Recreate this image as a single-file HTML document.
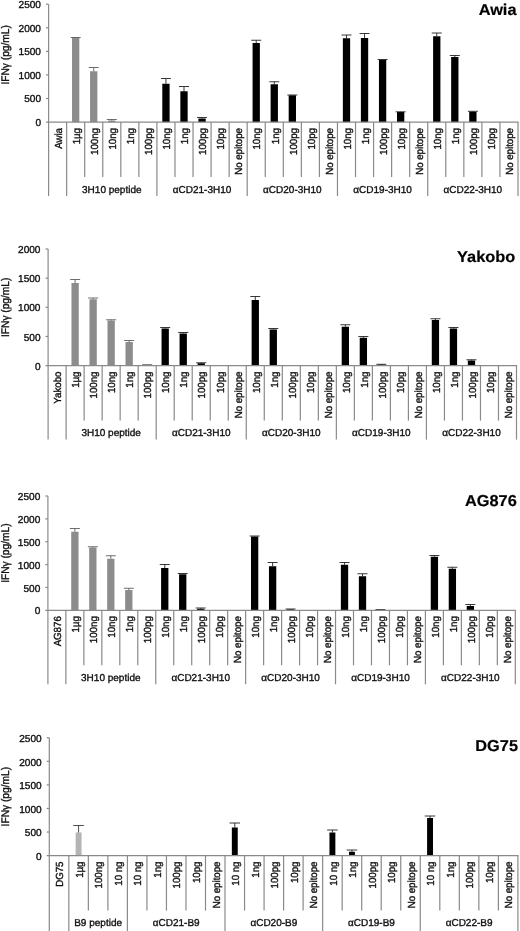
<!DOCTYPE html>
<html lang="en"><head><meta charset="utf-8"><title>IFNγ release</title>
<style>html,body{margin:0;padding:0;background:#fff}body{width:520px;height:931px;overflow:hidden}svg{display:block}</style>
</head><body>
<svg width="520" height="931" viewBox="0 0 520 931">
<rect width="520" height="931" fill="#fff"/>
<rect x="72.03" y="37.50" width="7.30" height="84.60" fill="#8c8c8c"/>
<path d="M75.68 37.50V37.50M70.68 37.50H80.68" stroke="#5e5e5e" stroke-width="0.9" fill="none"/>
<rect x="90.08" y="71.25" width="7.30" height="50.85" fill="#8c8c8c"/>
<path d="M93.73 71.25V67.50M88.73 67.50H98.73" stroke="#5e5e5e" stroke-width="0.9" fill="none"/>
<rect x="108.14" y="120.50" width="7.30" height="1.60" fill="#8c8c8c"/>
<path d="M111.79 120.50V119.50M106.79 119.50H116.79" stroke="#5e5e5e" stroke-width="0.9" fill="none"/>
<rect x="162.30" y="83.75" width="7.30" height="38.35" fill="#000"/>
<path d="M165.95 83.75V78.50M160.95 78.50H170.95" stroke="#222" stroke-width="0.9" fill="none"/>
<rect x="180.35" y="91.25" width="7.30" height="30.85" fill="#000"/>
<path d="M184.00 91.25V86.50M179.00 86.50H189.00" stroke="#222" stroke-width="0.9" fill="none"/>
<rect x="198.41" y="118.50" width="7.30" height="3.60" fill="#000"/>
<path d="M202.06 118.50V117.50M197.06 117.50H207.06" stroke="#222" stroke-width="0.9" fill="none"/>
<rect x="252.57" y="43.00" width="7.30" height="79.10" fill="#000"/>
<path d="M256.22 43.00V40.25M251.22 40.25H261.22" stroke="#222" stroke-width="0.9" fill="none"/>
<rect x="270.62" y="84.25" width="7.30" height="37.85" fill="#000"/>
<path d="M274.27 84.25V81.75M269.27 81.75H279.27" stroke="#222" stroke-width="0.9" fill="none"/>
<rect x="288.68" y="95.25" width="7.30" height="26.85" fill="#000"/>
<path d="M292.33 95.25V95.00M287.33 95.00H297.33" stroke="#222" stroke-width="0.9" fill="none"/>
<rect x="342.84" y="38.25" width="7.30" height="83.85" fill="#000"/>
<path d="M346.49 38.25V35.00M341.49 35.00H351.49" stroke="#222" stroke-width="0.9" fill="none"/>
<rect x="360.89" y="38.00" width="7.30" height="84.10" fill="#000"/>
<path d="M364.54 38.00V33.50M359.54 33.50H369.54" stroke="#222" stroke-width="0.9" fill="none"/>
<rect x="378.95" y="59.75" width="7.30" height="62.35" fill="#000"/>
<path d="M382.60 59.75V59.50M377.60 59.50H387.60" stroke="#222" stroke-width="0.9" fill="none"/>
<rect x="397.00" y="112.00" width="7.30" height="10.10" fill="#000"/>
<path d="M400.65 112.00V111.80M395.65 111.80H405.65" stroke="#222" stroke-width="0.9" fill="none"/>
<rect x="433.11" y="36.25" width="7.30" height="85.85" fill="#000"/>
<path d="M436.76 36.25V33.00M431.76 33.00H441.76" stroke="#222" stroke-width="0.9" fill="none"/>
<rect x="451.16" y="57.00" width="7.30" height="65.10" fill="#000"/>
<path d="M454.81 57.00V55.50M449.81 55.50H459.81" stroke="#222" stroke-width="0.9" fill="none"/>
<rect x="469.22" y="111.75" width="7.30" height="10.35" fill="#000"/>
<path d="M472.87 111.75V111.30M467.87 111.30H477.87" stroke="#222" stroke-width="0.9" fill="none"/>
<g stroke="#8a8a8a" stroke-width="1.2" fill="none">
<path d="M48.60 4.20V122.10"/>
<path d="M46.00 122.10H518.60"/>
<path d="M46.00 4.20H48.60"/>
<path d="M46.00 27.78H48.60"/>
<path d="M46.00 51.36H48.60"/>
<path d="M46.00 74.94H48.60"/>
<path d="M46.00 98.52H48.60"/>
<path d="M48.60 122.10V196.10"/>
<path d="M66.65 122.10V196.10"/>
<path d="M84.71 122.10V177.10"/>
<path d="M102.76 122.10V177.10"/>
<path d="M120.82 122.10V177.10"/>
<path d="M138.87 122.10V177.10"/>
<path d="M156.92 122.10V196.10"/>
<path d="M174.98 122.10V177.10"/>
<path d="M193.03 122.10V177.10"/>
<path d="M211.08 122.10V177.10"/>
<path d="M229.14 122.10V177.10"/>
<path d="M247.19 122.10V196.10"/>
<path d="M265.25 122.10V177.10"/>
<path d="M283.30 122.10V177.10"/>
<path d="M301.35 122.10V177.10"/>
<path d="M319.41 122.10V177.10"/>
<path d="M337.46 122.10V196.10"/>
<path d="M355.52 122.10V177.10"/>
<path d="M373.57 122.10V177.10"/>
<path d="M391.62 122.10V177.10"/>
<path d="M409.68 122.10V177.10"/>
<path d="M427.73 122.10V196.10"/>
<path d="M445.78 122.10V177.10"/>
<path d="M463.84 122.10V177.10"/>
<path d="M481.89 122.10V177.10"/>
<path d="M499.95 122.10V177.10"/>
<path d="M518.00 122.10V196.10"/>
</g>
<g font-family="Liberation Sans, Arial, Helvetica, sans-serif" fill="#111" stroke="#111" stroke-width="0.35" text-rendering="geometricPrecision">
<text x="41.00" y="8.00" font-size="10.1" text-anchor="end">2500</text>
<text x="41.00" y="31.58" font-size="10.1" text-anchor="end">2000</text>
<text x="41.00" y="55.16" font-size="10.1" text-anchor="end">1500</text>
<text x="41.00" y="78.74" font-size="10.1" text-anchor="end">1000</text>
<text x="41.00" y="102.32" font-size="10.1" text-anchor="end">500</text>
<text x="41.00" y="125.90" font-size="10.1" text-anchor="end">0</text>
<text transform="translate(8.5 54.85) rotate(-90) scale(1 1.08)" font-size="10.2" text-anchor="middle">IFNγ (pg/mL)</text>
<text transform="translate(61.88 128.00) rotate(-90) scale(1 1.06)" font-size="9.7" text-anchor="end">Awia</text>
<text transform="translate(79.93 128.00) rotate(-90) scale(1 1.06)" font-size="9.7" text-anchor="end">1µg</text>
<text transform="translate(97.98 128.00) rotate(-90) scale(1 1.06)" font-size="9.7" text-anchor="end">100ng</text>
<text transform="translate(116.04 128.00) rotate(-90) scale(1 1.06)" font-size="9.7" text-anchor="end">10ng</text>
<text transform="translate(134.09 128.00) rotate(-90) scale(1 1.06)" font-size="9.7" text-anchor="end">1ng</text>
<text transform="translate(152.15 128.00) rotate(-90) scale(1 1.06)" font-size="9.7" text-anchor="end">100pg</text>
<text transform="translate(170.20 128.00) rotate(-90) scale(1 1.06)" font-size="9.7" text-anchor="end">10ng</text>
<text transform="translate(188.25 128.00) rotate(-90) scale(1 1.06)" font-size="9.7" text-anchor="end">1ng</text>
<text transform="translate(206.31 128.00) rotate(-90) scale(1 1.06)" font-size="9.7" text-anchor="end">100pg</text>
<text transform="translate(224.36 128.00) rotate(-90) scale(1 1.06)" font-size="9.7" text-anchor="end">10pg</text>
<text transform="translate(242.42 128.00) rotate(-90) scale(1 1.06)" font-size="9.7" text-anchor="end">No epitope</text>
<text transform="translate(260.47 128.00) rotate(-90) scale(1 1.06)" font-size="9.7" text-anchor="end">10ng</text>
<text transform="translate(278.52 128.00) rotate(-90) scale(1 1.06)" font-size="9.7" text-anchor="end">1ng</text>
<text transform="translate(296.58 128.00) rotate(-90) scale(1 1.06)" font-size="9.7" text-anchor="end">100pg</text>
<text transform="translate(314.63 128.00) rotate(-90) scale(1 1.06)" font-size="9.7" text-anchor="end">10pg</text>
<text transform="translate(332.68 128.00) rotate(-90) scale(1 1.06)" font-size="9.7" text-anchor="end">No epitope</text>
<text transform="translate(350.74 128.00) rotate(-90) scale(1 1.06)" font-size="9.7" text-anchor="end">10ng</text>
<text transform="translate(368.79 128.00) rotate(-90) scale(1 1.06)" font-size="9.7" text-anchor="end">1ng</text>
<text transform="translate(386.85 128.00) rotate(-90) scale(1 1.06)" font-size="9.7" text-anchor="end">100pg</text>
<text transform="translate(404.90 128.00) rotate(-90) scale(1 1.06)" font-size="9.7" text-anchor="end">10pg</text>
<text transform="translate(422.95 128.00) rotate(-90) scale(1 1.06)" font-size="9.7" text-anchor="end">No epitope</text>
<text transform="translate(441.01 128.00) rotate(-90) scale(1 1.06)" font-size="9.7" text-anchor="end">10ng</text>
<text transform="translate(459.06 128.00) rotate(-90) scale(1 1.06)" font-size="9.7" text-anchor="end">1ng</text>
<text transform="translate(477.12 128.00) rotate(-90) scale(1 1.06)" font-size="9.7" text-anchor="end">100pg</text>
<text transform="translate(495.17 128.00) rotate(-90) scale(1 1.06)" font-size="9.7" text-anchor="end">10pg</text>
<text transform="translate(513.22 128.00) rotate(-90) scale(1 1.06)" font-size="9.7" text-anchor="end">No epitope</text>
<text x="111.79" y="192.60" font-size="10" text-anchor="middle">3H10 peptide</text>
<text x="202.06" y="192.60" font-size="10" text-anchor="middle">αCD21-3H10</text>
<text x="292.33" y="192.60" font-size="10" text-anchor="middle">αCD20-3H10</text>
<text x="382.60" y="192.60" font-size="10" text-anchor="middle">αCD19-3H10</text>
<text x="472.87" y="192.60" font-size="10" text-anchor="middle">αCD22-3H10</text>
<text transform="translate(516.5 14.75) scale(1.035 1)" font-size="15.8" font-weight="bold" text-anchor="end" fill="#000" stroke="#000" stroke-width="0.2">Awia</text>
</g>
<rect x="71.47" y="283.00" width="7.30" height="82.60" fill="#8c8c8c"/>
<path d="M75.12 283.00V279.50M70.12 279.50H80.12" stroke="#5e5e5e" stroke-width="0.9" fill="none"/>
<rect x="89.49" y="299.25" width="7.30" height="66.35" fill="#8c8c8c"/>
<path d="M93.14 299.25V298.00M88.14 298.00H98.14" stroke="#5e5e5e" stroke-width="0.9" fill="none"/>
<rect x="107.50" y="320.50" width="7.30" height="45.10" fill="#8c8c8c"/>
<path d="M111.15 320.50V319.75M106.15 319.75H116.15" stroke="#5e5e5e" stroke-width="0.9" fill="none"/>
<rect x="125.52" y="342.00" width="7.30" height="23.60" fill="#8c8c8c"/>
<path d="M129.17 342.00V340.50M124.17 340.50H134.17" stroke="#5e5e5e" stroke-width="0.9" fill="none"/>
<rect x="143.53" y="364.90" width="7.30" height="0.70" fill="#8c8c8c"/>
<path d="M147.18 364.90V364.70M142.18 364.70H152.18" stroke="#5e5e5e" stroke-width="0.9" fill="none"/>
<rect x="161.55" y="328.50" width="7.30" height="37.10" fill="#000"/>
<path d="M165.20 328.50V327.50M160.20 327.50H170.20" stroke="#222" stroke-width="0.9" fill="none"/>
<rect x="179.57" y="333.50" width="7.30" height="32.10" fill="#000"/>
<path d="M183.22 333.50V332.50M178.22 332.50H188.22" stroke="#222" stroke-width="0.9" fill="none"/>
<rect x="197.58" y="363.25" width="7.30" height="2.35" fill="#000"/>
<path d="M201.23 363.25V362.75M196.23 362.75H206.23" stroke="#222" stroke-width="0.9" fill="none"/>
<rect x="251.63" y="300.00" width="7.30" height="65.60" fill="#000"/>
<path d="M255.28 300.00V296.50M250.28 296.50H260.28" stroke="#222" stroke-width="0.9" fill="none"/>
<rect x="269.64" y="329.50" width="7.30" height="36.10" fill="#000"/>
<path d="M273.29 329.50V328.50M268.29 328.50H278.29" stroke="#222" stroke-width="0.9" fill="none"/>
<rect x="341.70" y="326.75" width="7.30" height="38.85" fill="#000"/>
<path d="M345.35 326.75V324.75M340.35 324.75H350.35" stroke="#222" stroke-width="0.9" fill="none"/>
<rect x="359.72" y="337.75" width="7.30" height="27.85" fill="#000"/>
<path d="M363.37 337.75V336.50M358.37 336.50H368.37" stroke="#222" stroke-width="0.9" fill="none"/>
<rect x="377.73" y="364.60" width="7.30" height="1.00" fill="#000"/>
<path d="M381.38 364.60V364.30M376.38 364.30H386.38" stroke="#222" stroke-width="0.9" fill="none"/>
<rect x="431.78" y="320.00" width="7.30" height="45.60" fill="#000"/>
<path d="M435.43 320.00V318.75M430.43 318.75H440.43" stroke="#222" stroke-width="0.9" fill="none"/>
<rect x="449.80" y="328.50" width="7.30" height="37.10" fill="#000"/>
<path d="M453.45 328.50V327.50M448.45 327.50H458.45" stroke="#222" stroke-width="0.9" fill="none"/>
<rect x="467.81" y="360.50" width="7.30" height="5.10" fill="#000"/>
<path d="M471.46 360.50V359.75M466.46 359.75H476.46" stroke="#222" stroke-width="0.9" fill="none"/>
<g stroke="#8a8a8a" stroke-width="1.2" fill="none">
<path d="M48.10 249.00V365.60"/>
<path d="M45.50 365.60H517.10"/>
<path d="M45.50 249.00H48.10"/>
<path d="M45.50 278.15H48.10"/>
<path d="M45.50 307.30H48.10"/>
<path d="M45.50 336.45H48.10"/>
<path d="M48.10 365.60V439.60"/>
<path d="M66.12 365.60V439.60"/>
<path d="M84.13 365.60V420.60"/>
<path d="M102.15 365.60V420.60"/>
<path d="M120.16 365.60V420.60"/>
<path d="M138.18 365.60V420.60"/>
<path d="M156.19 365.60V439.60"/>
<path d="M174.21 365.60V420.60"/>
<path d="M192.22 365.60V420.60"/>
<path d="M210.24 365.60V420.60"/>
<path d="M228.25 365.60V420.60"/>
<path d="M246.27 365.60V439.60"/>
<path d="M264.28 365.60V420.60"/>
<path d="M282.30 365.60V420.60"/>
<path d="M300.32 365.60V420.60"/>
<path d="M318.33 365.60V420.60"/>
<path d="M336.35 365.60V439.60"/>
<path d="M354.36 365.60V420.60"/>
<path d="M372.38 365.60V420.60"/>
<path d="M390.39 365.60V420.60"/>
<path d="M408.41 365.60V420.60"/>
<path d="M426.42 365.60V439.60"/>
<path d="M444.44 365.60V420.60"/>
<path d="M462.45 365.60V420.60"/>
<path d="M480.47 365.60V420.60"/>
<path d="M498.48 365.60V420.60"/>
<path d="M516.50 365.60V439.60"/>
</g>
<g font-family="Liberation Sans, Arial, Helvetica, sans-serif" fill="#111" stroke="#111" stroke-width="0.35" text-rendering="geometricPrecision">
<text x="40.50" y="253.10" font-size="10.1" text-anchor="end">2000</text>
<text x="40.50" y="282.25" font-size="10.1" text-anchor="end">1500</text>
<text x="40.50" y="311.40" font-size="10.1" text-anchor="end">1000</text>
<text x="40.50" y="340.55" font-size="10.1" text-anchor="end">500</text>
<text x="40.50" y="369.70" font-size="10.1" text-anchor="end">0</text>
<text transform="translate(8.5 307.30) rotate(-90) scale(1 1.08)" font-size="10.2" text-anchor="middle">IFNγ (pg/mL)</text>
<text transform="translate(61.36 371.50) rotate(-90) scale(1 1.06)" font-size="9.7" text-anchor="end">Yakobo</text>
<text transform="translate(79.37 371.50) rotate(-90) scale(1 1.06)" font-size="9.7" text-anchor="end">1µg</text>
<text transform="translate(97.39 371.50) rotate(-90) scale(1 1.06)" font-size="9.7" text-anchor="end">100ng</text>
<text transform="translate(115.40 371.50) rotate(-90) scale(1 1.06)" font-size="9.7" text-anchor="end">10ng</text>
<text transform="translate(133.42 371.50) rotate(-90) scale(1 1.06)" font-size="9.7" text-anchor="end">1ng</text>
<text transform="translate(151.43 371.50) rotate(-90) scale(1 1.06)" font-size="9.7" text-anchor="end">100pg</text>
<text transform="translate(169.45 371.50) rotate(-90) scale(1 1.06)" font-size="9.7" text-anchor="end">10ng</text>
<text transform="translate(187.47 371.50) rotate(-90) scale(1 1.06)" font-size="9.7" text-anchor="end">1ng</text>
<text transform="translate(205.48 371.50) rotate(-90) scale(1 1.06)" font-size="9.7" text-anchor="end">100pg</text>
<text transform="translate(223.50 371.50) rotate(-90) scale(1 1.06)" font-size="9.7" text-anchor="end">10pg</text>
<text transform="translate(241.51 371.50) rotate(-90) scale(1 1.06)" font-size="9.7" text-anchor="end">No epitope</text>
<text transform="translate(259.53 371.50) rotate(-90) scale(1 1.06)" font-size="9.7" text-anchor="end">10ng</text>
<text transform="translate(277.54 371.50) rotate(-90) scale(1 1.06)" font-size="9.7" text-anchor="end">1ng</text>
<text transform="translate(295.56 371.50) rotate(-90) scale(1 1.06)" font-size="9.7" text-anchor="end">100pg</text>
<text transform="translate(313.57 371.50) rotate(-90) scale(1 1.06)" font-size="9.7" text-anchor="end">10pg</text>
<text transform="translate(331.59 371.50) rotate(-90) scale(1 1.06)" font-size="9.7" text-anchor="end">No epitope</text>
<text transform="translate(349.60 371.50) rotate(-90) scale(1 1.06)" font-size="9.7" text-anchor="end">10ng</text>
<text transform="translate(367.62 371.50) rotate(-90) scale(1 1.06)" font-size="9.7" text-anchor="end">1ng</text>
<text transform="translate(385.63 371.50) rotate(-90) scale(1 1.06)" font-size="9.7" text-anchor="end">100pg</text>
<text transform="translate(403.65 371.50) rotate(-90) scale(1 1.06)" font-size="9.7" text-anchor="end">10pg</text>
<text transform="translate(421.67 371.50) rotate(-90) scale(1 1.06)" font-size="9.7" text-anchor="end">No epitope</text>
<text transform="translate(439.68 371.50) rotate(-90) scale(1 1.06)" font-size="9.7" text-anchor="end">10ng</text>
<text transform="translate(457.70 371.50) rotate(-90) scale(1 1.06)" font-size="9.7" text-anchor="end">1ng</text>
<text transform="translate(475.71 371.50) rotate(-90) scale(1 1.06)" font-size="9.7" text-anchor="end">100pg</text>
<text transform="translate(493.73 371.50) rotate(-90) scale(1 1.06)" font-size="9.7" text-anchor="end">10pg</text>
<text transform="translate(511.74 371.50) rotate(-90) scale(1 1.06)" font-size="9.7" text-anchor="end">No epitope</text>
<text x="111.15" y="436.10" font-size="10" text-anchor="middle">3H10 peptide</text>
<text x="201.23" y="436.10" font-size="10" text-anchor="middle">αCD21-3H10</text>
<text x="291.31" y="436.10" font-size="10" text-anchor="middle">αCD20-3H10</text>
<text x="381.38" y="436.10" font-size="10" text-anchor="middle">αCD19-3H10</text>
<text x="471.46" y="436.10" font-size="10" text-anchor="middle">αCD22-3H10</text>
<text transform="translate(515.2 262) scale(1.035 1)" font-size="15.8" font-weight="bold" text-anchor="end" fill="#000" stroke="#000" stroke-width="0.2">Yakobo</text>
</g>
<rect x="71.22" y="531.75" width="7.30" height="78.55" fill="#8c8c8c"/>
<path d="M74.87 531.75V528.50M69.87 528.50H79.87" stroke="#5e5e5e" stroke-width="0.9" fill="none"/>
<rect x="89.19" y="547.50" width="7.30" height="62.80" fill="#8c8c8c"/>
<path d="M92.84 547.50V546.75M87.84 546.75H97.84" stroke="#5e5e5e" stroke-width="0.9" fill="none"/>
<rect x="107.17" y="558.75" width="7.30" height="51.55" fill="#8c8c8c"/>
<path d="M110.82 558.75V555.75M105.82 555.75H115.82" stroke="#5e5e5e" stroke-width="0.9" fill="none"/>
<rect x="125.15" y="590.00" width="7.30" height="20.30" fill="#8c8c8c"/>
<path d="M128.80 590.00V588.25M123.80 588.25H133.80" stroke="#5e5e5e" stroke-width="0.9" fill="none"/>
<rect x="161.10" y="568.00" width="7.30" height="42.30" fill="#000"/>
<path d="M164.75 568.00V564.50M159.75 564.50H169.75" stroke="#222" stroke-width="0.9" fill="none"/>
<rect x="179.08" y="574.25" width="7.30" height="36.05" fill="#000"/>
<path d="M182.73 574.25V573.50M177.73 573.50H187.73" stroke="#222" stroke-width="0.9" fill="none"/>
<rect x="197.05" y="608.75" width="7.30" height="1.55" fill="#000"/>
<path d="M200.70 608.75V608.00M195.70 608.00H205.70" stroke="#222" stroke-width="0.9" fill="none"/>
<rect x="250.98" y="536.50" width="7.30" height="73.80" fill="#000"/>
<path d="M254.63 536.50V536.00M249.63 536.00H259.63" stroke="#222" stroke-width="0.9" fill="none"/>
<rect x="268.96" y="566.25" width="7.30" height="44.05" fill="#000"/>
<path d="M272.61 566.25V562.50M267.61 562.50H277.61" stroke="#222" stroke-width="0.9" fill="none"/>
<rect x="286.94" y="609.30" width="7.30" height="1.00" fill="#000"/>
<path d="M290.59 609.30V609.00M285.59 609.00H295.59" stroke="#222" stroke-width="0.9" fill="none"/>
<rect x="340.87" y="564.75" width="7.30" height="45.55" fill="#000"/>
<path d="M344.52 564.75V562.50M339.52 562.50H349.52" stroke="#222" stroke-width="0.9" fill="none"/>
<rect x="358.85" y="576.25" width="7.30" height="34.05" fill="#000"/>
<path d="M362.50 576.25V573.75M357.50 573.75H367.50" stroke="#222" stroke-width="0.9" fill="none"/>
<rect x="376.82" y="609.80" width="7.30" height="0.50" fill="#000"/>
<path d="M380.47 609.80V609.60M375.47 609.60H385.47" stroke="#222" stroke-width="0.9" fill="none"/>
<rect x="430.75" y="556.75" width="7.30" height="53.55" fill="#000"/>
<path d="M434.40 556.75V555.50M429.40 555.50H439.40" stroke="#222" stroke-width="0.9" fill="none"/>
<rect x="448.73" y="568.75" width="7.30" height="41.55" fill="#000"/>
<path d="M452.38 568.75V567.25M447.38 567.25H457.38" stroke="#222" stroke-width="0.9" fill="none"/>
<rect x="466.71" y="606.00" width="7.30" height="4.30" fill="#000"/>
<path d="M470.36 606.00V604.50M465.36 604.50H475.36" stroke="#222" stroke-width="0.9" fill="none"/>
<g stroke="#8a8a8a" stroke-width="1.2" fill="none">
<path d="M47.90 496.00V610.30"/>
<path d="M45.30 610.30H515.90"/>
<path d="M45.30 496.00H47.90"/>
<path d="M45.30 518.86H47.90"/>
<path d="M45.30 541.72H47.90"/>
<path d="M45.30 564.58H47.90"/>
<path d="M45.30 587.44H47.90"/>
<path d="M47.90 610.30V684.30"/>
<path d="M65.88 610.30V684.30"/>
<path d="M83.85 610.30V665.30"/>
<path d="M101.83 610.30V665.30"/>
<path d="M119.81 610.30V665.30"/>
<path d="M137.78 610.30V665.30"/>
<path d="M155.76 610.30V684.30"/>
<path d="M173.74 610.30V665.30"/>
<path d="M191.72 610.30V665.30"/>
<path d="M209.69 610.30V665.30"/>
<path d="M227.67 610.30V665.30"/>
<path d="M245.65 610.30V684.30"/>
<path d="M263.62 610.30V665.30"/>
<path d="M281.60 610.30V665.30"/>
<path d="M299.58 610.30V665.30"/>
<path d="M317.55 610.30V665.30"/>
<path d="M335.53 610.30V684.30"/>
<path d="M353.51 610.30V665.30"/>
<path d="M371.48 610.30V665.30"/>
<path d="M389.46 610.30V665.30"/>
<path d="M407.44 610.30V665.30"/>
<path d="M425.42 610.30V684.30"/>
<path d="M443.39 610.30V665.30"/>
<path d="M461.37 610.30V665.30"/>
<path d="M479.35 610.30V665.30"/>
<path d="M497.32 610.30V665.30"/>
<path d="M515.30 610.30V684.30"/>
</g>
<g font-family="Liberation Sans, Arial, Helvetica, sans-serif" fill="#111" stroke="#111" stroke-width="0.35" text-rendering="geometricPrecision">
<text x="40.30" y="500.10" font-size="10.1" text-anchor="end">2500</text>
<text x="40.30" y="522.96" font-size="10.1" text-anchor="end">2000</text>
<text x="40.30" y="545.82" font-size="10.1" text-anchor="end">1500</text>
<text x="40.30" y="568.68" font-size="10.1" text-anchor="end">1000</text>
<text x="40.30" y="591.54" font-size="10.1" text-anchor="end">500</text>
<text x="40.30" y="614.40" font-size="10.1" text-anchor="end">0</text>
<text transform="translate(8.5 553.15) rotate(-90) scale(1 1.08)" font-size="10.2" text-anchor="middle">IFNγ (pg/mL)</text>
<text transform="translate(61.14 616.20) rotate(-90) scale(1 1.06)" font-size="9.7" text-anchor="end">AG876</text>
<text transform="translate(79.12 616.20) rotate(-90) scale(1 1.06)" font-size="9.7" text-anchor="end">1µg</text>
<text transform="translate(97.09 616.20) rotate(-90) scale(1 1.06)" font-size="9.7" text-anchor="end">100ng</text>
<text transform="translate(115.07 616.20) rotate(-90) scale(1 1.06)" font-size="9.7" text-anchor="end">10ng</text>
<text transform="translate(133.05 616.20) rotate(-90) scale(1 1.06)" font-size="9.7" text-anchor="end">1ng</text>
<text transform="translate(151.02 616.20) rotate(-90) scale(1 1.06)" font-size="9.7" text-anchor="end">100pg</text>
<text transform="translate(169.00 616.20) rotate(-90) scale(1 1.06)" font-size="9.7" text-anchor="end">10ng</text>
<text transform="translate(186.98 616.20) rotate(-90) scale(1 1.06)" font-size="9.7" text-anchor="end">1ng</text>
<text transform="translate(204.95 616.20) rotate(-90) scale(1 1.06)" font-size="9.7" text-anchor="end">100pg</text>
<text transform="translate(222.93 616.20) rotate(-90) scale(1 1.06)" font-size="9.7" text-anchor="end">10pg</text>
<text transform="translate(240.91 616.20) rotate(-90) scale(1 1.06)" font-size="9.7" text-anchor="end">No epitope</text>
<text transform="translate(258.88 616.20) rotate(-90) scale(1 1.06)" font-size="9.7" text-anchor="end">10ng</text>
<text transform="translate(276.86 616.20) rotate(-90) scale(1 1.06)" font-size="9.7" text-anchor="end">1ng</text>
<text transform="translate(294.84 616.20) rotate(-90) scale(1 1.06)" font-size="9.7" text-anchor="end">100pg</text>
<text transform="translate(312.82 616.20) rotate(-90) scale(1 1.06)" font-size="9.7" text-anchor="end">10pg</text>
<text transform="translate(330.79 616.20) rotate(-90) scale(1 1.06)" font-size="9.7" text-anchor="end">No epitope</text>
<text transform="translate(348.77 616.20) rotate(-90) scale(1 1.06)" font-size="9.7" text-anchor="end">10ng</text>
<text transform="translate(366.75 616.20) rotate(-90) scale(1 1.06)" font-size="9.7" text-anchor="end">1ng</text>
<text transform="translate(384.72 616.20) rotate(-90) scale(1 1.06)" font-size="9.7" text-anchor="end">100pg</text>
<text transform="translate(402.70 616.20) rotate(-90) scale(1 1.06)" font-size="9.7" text-anchor="end">10pg</text>
<text transform="translate(420.68 616.20) rotate(-90) scale(1 1.06)" font-size="9.7" text-anchor="end">No epitope</text>
<text transform="translate(438.65 616.20) rotate(-90) scale(1 1.06)" font-size="9.7" text-anchor="end">10ng</text>
<text transform="translate(456.63 616.20) rotate(-90) scale(1 1.06)" font-size="9.7" text-anchor="end">1ng</text>
<text transform="translate(474.61 616.20) rotate(-90) scale(1 1.06)" font-size="9.7" text-anchor="end">100pg</text>
<text transform="translate(492.58 616.20) rotate(-90) scale(1 1.06)" font-size="9.7" text-anchor="end">10pg</text>
<text transform="translate(510.56 616.20) rotate(-90) scale(1 1.06)" font-size="9.7" text-anchor="end">No epitope</text>
<text x="110.82" y="680.80" font-size="10" text-anchor="middle">3H10 peptide</text>
<text x="200.70" y="680.80" font-size="10" text-anchor="middle">αCD21-3H10</text>
<text x="290.59" y="680.80" font-size="10" text-anchor="middle">αCD20-3H10</text>
<text x="380.47" y="680.80" font-size="10" text-anchor="middle">αCD19-3H10</text>
<text x="470.36" y="680.80" font-size="10" text-anchor="middle">αCD22-3H10</text>
<text transform="translate(516.8 506.25) scale(1.035 1)" font-size="15.8" font-weight="bold" text-anchor="end" fill="#000" stroke="#000" stroke-width="0.2">AG876</text>
</g>
<rect x="75.64" y="832.50" width="5.90" height="23.10" fill="#b4b4b4"/>
<path d="M78.59 832.50V825.50M73.34 825.50H83.84" stroke="#3a3a3a" stroke-width="0.9" fill="none"/>
<rect x="231.84" y="827.50" width="5.90" height="28.10" fill="#000"/>
<path d="M234.79 827.50V823.00M229.54 823.00H240.04" stroke="#222" stroke-width="0.9" fill="none"/>
<rect x="329.46" y="832.50" width="5.90" height="23.10" fill="#000"/>
<path d="M332.41 832.50V830.00M327.16 830.00H337.66" stroke="#222" stroke-width="0.9" fill="none"/>
<rect x="348.99" y="851.75" width="5.90" height="3.85" fill="#000"/>
<path d="M351.94 851.75V850.00M346.69 850.00H357.19" stroke="#222" stroke-width="0.9" fill="none"/>
<rect x="427.09" y="818.00" width="5.90" height="37.60" fill="#000"/>
<path d="M430.04 818.00V816.00M424.79 816.00H435.29" stroke="#222" stroke-width="0.9" fill="none"/>
<g stroke="#8a8a8a" stroke-width="1.2" fill="none">
<path d="M49.30 737.75V855.60"/>
<path d="M46.70 855.60H518.50"/>
<path d="M46.70 737.75H49.30"/>
<path d="M46.70 761.32H49.30"/>
<path d="M46.70 784.89H49.30"/>
<path d="M46.70 808.46H49.30"/>
<path d="M46.70 832.03H49.30"/>
<path d="M49.30 855.60V931.00"/>
<path d="M68.82 855.60V931.00"/>
<path d="M88.35 855.60V910.60"/>
<path d="M107.88 855.60V910.60"/>
<path d="M127.40 855.60V931.00"/>
<path d="M146.93 855.60V910.60"/>
<path d="M166.45 855.60V910.60"/>
<path d="M185.97 855.60V910.60"/>
<path d="M205.50 855.60V910.60"/>
<path d="M225.02 855.60V931.00"/>
<path d="M244.55 855.60V910.60"/>
<path d="M264.07 855.60V910.60"/>
<path d="M283.60 855.60V910.60"/>
<path d="M303.12 855.60V910.60"/>
<path d="M322.65 855.60V931.00"/>
<path d="M342.18 855.60V910.60"/>
<path d="M361.70 855.60V910.60"/>
<path d="M381.22 855.60V910.60"/>
<path d="M400.75 855.60V910.60"/>
<path d="M420.27 855.60V931.00"/>
<path d="M439.80 855.60V910.60"/>
<path d="M459.32 855.60V910.60"/>
<path d="M478.85 855.60V910.60"/>
<path d="M498.38 855.60V910.60"/>
<path d="M517.90 855.60V931.00"/>
</g>
<g font-family="Liberation Sans, Arial, Helvetica, sans-serif" fill="#111" stroke="#111" stroke-width="0.35" text-rendering="geometricPrecision">
<text x="41.70" y="742.15" font-size="10.1" text-anchor="end">2500</text>
<text x="41.70" y="765.72" font-size="10.1" text-anchor="end">2000</text>
<text x="41.70" y="789.29" font-size="10.1" text-anchor="end">1500</text>
<text x="41.70" y="812.86" font-size="10.1" text-anchor="end">1000</text>
<text x="41.70" y="836.43" font-size="10.1" text-anchor="end">500</text>
<text x="41.70" y="860.00" font-size="10.1" text-anchor="end">0</text>
<text transform="translate(8.5 796.67) rotate(-90) scale(1 1.08)" font-size="10.2" text-anchor="middle">IFNγ (pg/mL)</text>
<text transform="translate(63.31 861.50) rotate(-90) scale(1 1.06)" font-size="9.7" text-anchor="end">DG75</text>
<text transform="translate(82.84 861.50) rotate(-90) scale(1 1.06)" font-size="9.7" text-anchor="end">1µg</text>
<text transform="translate(102.36 861.50) rotate(-90) scale(1 1.06)" font-size="9.7" text-anchor="end">100ng</text>
<text transform="translate(121.89 861.50) rotate(-90) scale(1 1.06)" font-size="9.7" text-anchor="end">10 ng</text>
<text transform="translate(141.41 861.50) rotate(-90) scale(1 1.06)" font-size="9.7" text-anchor="end">10 ng</text>
<text transform="translate(160.94 861.50) rotate(-90) scale(1 1.06)" font-size="9.7" text-anchor="end">1ng</text>
<text transform="translate(180.46 861.50) rotate(-90) scale(1 1.06)" font-size="9.7" text-anchor="end">100pg</text>
<text transform="translate(199.99 861.50) rotate(-90) scale(1 1.06)" font-size="9.7" text-anchor="end">10pg</text>
<text transform="translate(219.51 861.50) rotate(-90) scale(1 1.06)" font-size="9.7" text-anchor="end">No epitope</text>
<text transform="translate(239.04 861.50) rotate(-90) scale(1 1.06)" font-size="9.7" text-anchor="end">10 ng</text>
<text transform="translate(258.56 861.50) rotate(-90) scale(1 1.06)" font-size="9.7" text-anchor="end">1ng</text>
<text transform="translate(278.09 861.50) rotate(-90) scale(1 1.06)" font-size="9.7" text-anchor="end">100pg</text>
<text transform="translate(297.61 861.50) rotate(-90) scale(1 1.06)" font-size="9.7" text-anchor="end">10pg</text>
<text transform="translate(317.14 861.50) rotate(-90) scale(1 1.06)" font-size="9.7" text-anchor="end">No epitope</text>
<text transform="translate(336.66 861.50) rotate(-90) scale(1 1.06)" font-size="9.7" text-anchor="end">10 ng</text>
<text transform="translate(356.19 861.50) rotate(-90) scale(1 1.06)" font-size="9.7" text-anchor="end">1ng</text>
<text transform="translate(375.71 861.50) rotate(-90) scale(1 1.06)" font-size="9.7" text-anchor="end">100pg</text>
<text transform="translate(395.24 861.50) rotate(-90) scale(1 1.06)" font-size="9.7" text-anchor="end">10pg</text>
<text transform="translate(414.76 861.50) rotate(-90) scale(1 1.06)" font-size="9.7" text-anchor="end">No epitope</text>
<text transform="translate(434.29 861.50) rotate(-90) scale(1 1.06)" font-size="9.7" text-anchor="end">10 ng</text>
<text transform="translate(453.81 861.50) rotate(-90) scale(1 1.06)" font-size="9.7" text-anchor="end">1ng</text>
<text transform="translate(473.34 861.50) rotate(-90) scale(1 1.06)" font-size="9.7" text-anchor="end">100pg</text>
<text transform="translate(492.86 861.50) rotate(-90) scale(1 1.06)" font-size="9.7" text-anchor="end">10pg</text>
<text transform="translate(512.39 861.50) rotate(-90) scale(1 1.06)" font-size="9.7" text-anchor="end">No epitope</text>
<text x="98.11" y="925.80" font-size="10" text-anchor="middle">B9 peptide</text>
<text x="176.21" y="925.80" font-size="10" text-anchor="middle">αCD21-B9</text>
<text x="273.84" y="925.80" font-size="10" text-anchor="middle">αCD20-B9</text>
<text x="371.46" y="925.80" font-size="10" text-anchor="middle">αCD19-B9</text>
<text x="469.09" y="925.80" font-size="10" text-anchor="middle">αCD22-B9</text>
<text transform="translate(518 750.75) scale(1.035 1)" font-size="15.8" font-weight="bold" text-anchor="end" fill="#000" stroke="#000" stroke-width="0.2">DG75</text>
</g>
</svg>
</body></html>
